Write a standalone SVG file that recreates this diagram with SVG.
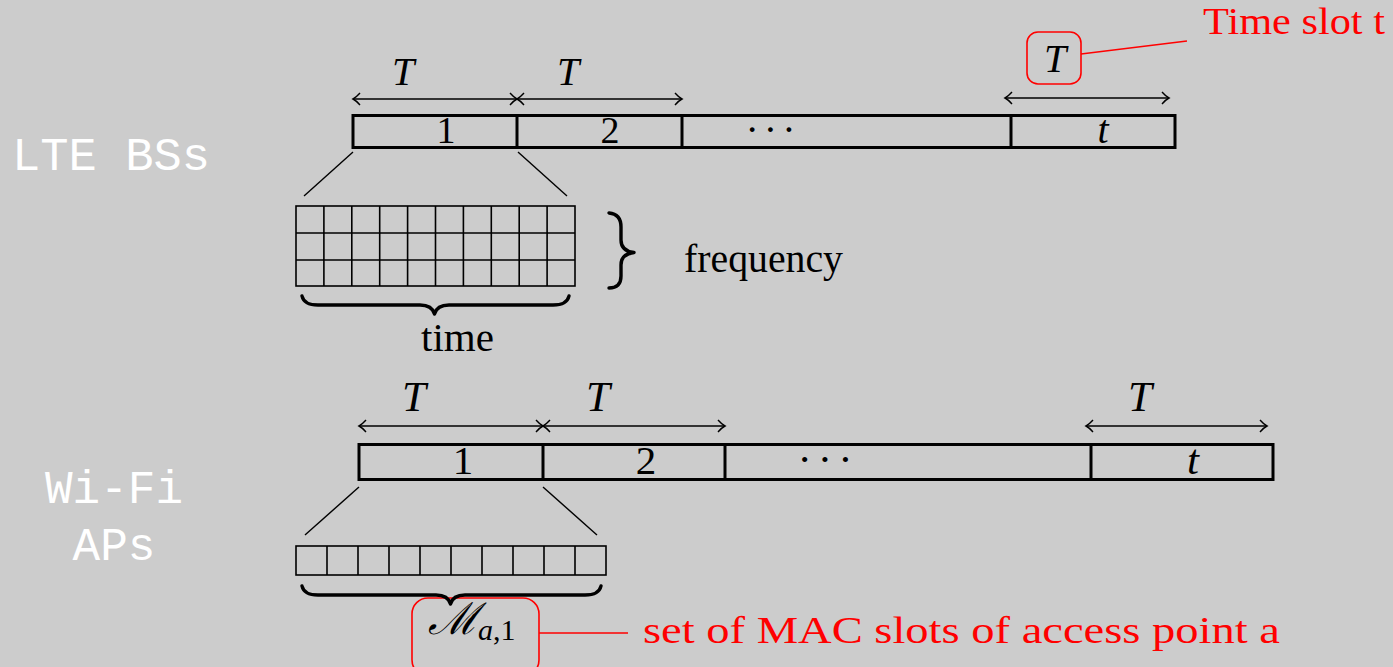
<svg xmlns="http://www.w3.org/2000/svg" width="1393" height="667" viewBox="0 0 1393 667">
<defs>
<style>
.bar{fill:none;stroke:#000;stroke-width:3}
.grid{fill:none;stroke:#000;stroke-width:1.6}
.thin{fill:none;stroke:#000;stroke-width:1.4}
.arr{fill:none;stroke:#000;stroke-width:1.4;marker-start:url(#ah);marker-end:url(#ah)}
.brace{fill:none;stroke:#000;stroke-width:3.4;stroke-linejoin:round;stroke-linecap:round}
.red{fill:none;stroke:#ff0000;stroke-width:1.6}
.m{font-family:"Liberation Serif","Times New Roman",serif;fill:#000}
.it{font-style:italic}
.rt{font-family:"Liberation Serif","Times New Roman",serif;fill:#ff0000}
.mono{font-family:"Liberation Mono","Courier New",monospace;fill:#fff;font-size:46px}
</style>
<marker id="ah" viewBox="-10 -8 12 16" markerWidth="12" markerHeight="16" refX="0" refY="0" markerUnits="userSpaceOnUse" orient="auto-start-reverse" overflow="visible">
<path d="M-7,-6 Q-3,-1.5 0,0 Q-3,1.5 -7,6" fill="none" stroke="#000" stroke-width="1.4"/>
</marker>
</defs>
<rect width="1393" height="667" fill="#cccccc"/>

<g id="labels">
<text class="mono" x="12" y="170" textLength="198" lengthAdjust="spacingAndGlyphs">LTE BSs</text>
<text class="mono" x="114" y="503" text-anchor="middle">Wi-Fi</text>
<text class="mono" x="114" y="560" text-anchor="middle">APs</text>
</g>

<g id="lte-bar">
<rect class="bar" x="353" y="115.5" width="822" height="32"/>
<line class="bar" x1="517" y1="115.5" x2="517" y2="147.5"/>
<line class="bar" x1="682" y1="115.5" x2="682" y2="147.5"/>
<line class="bar" x1="1011" y1="115.5" x2="1011" y2="147.5"/>
<text class="m" x="446" y="143" font-size="38" text-anchor="middle">1</text>
<text class="m" x="610" y="143" font-size="38" text-anchor="middle">2</text>
<text class="m" x="773" y="143" font-size="40" text-anchor="middle" letter-spacing="5">···</text>
<text class="m it" x="1103" y="143" font-size="40" text-anchor="middle">t</text>
</g>

<g id="lte-T">
<text class="m it" x="403" y="85" font-size="40" text-anchor="middle">T</text>
<text class="m it" x="568" y="85" font-size="40" text-anchor="middle">T</text>
</g>

<g id="lte-T-boxed">
<rect x="1027" y="32" width="54" height="52" rx="11" fill="none" stroke="#ff0000" stroke-width="1.6"/>
<text class="m it" x="1055" y="72" font-size="40" text-anchor="middle">T</text>
</g>

<g id="time-slot-label">
<text class="rt" x="1203" y="34" font-size="38" textLength="182" lengthAdjust="spacingAndGlyphs">Time slot t</text>
</g>

<g id="lte-grid">
<rect class="grid" x="296" y="206" width="279" height="80"/>
<path class="grid" d="M296,233H575M296,260H575M323.9,206V286M351.8,206V286M379.7,206V286M407.6,206V286M435.5,206V286M463.4,206V286M491.3,206V286M519.2,206V286M547.1,206V286"/>
<text class="m" x="457.5" y="351" font-size="40" text-anchor="middle" textLength="73" lengthAdjust="spacingAndGlyphs">time</text>
<text class="m" x="684" y="272" font-size="40" textLength="159" lengthAdjust="spacingAndGlyphs">frequency</text>
</g>

<g id="wifi-bar">
<rect class="bar" x="359" y="444.5" width="914" height="35"/>
<line class="bar" x1="543" y1="444.5" x2="543" y2="479.5"/>
<line class="bar" x1="725" y1="444.5" x2="725" y2="479.5"/>
<line class="bar" x1="1091" y1="444.5" x2="1091" y2="479.5"/>
<text class="m" x="463" y="474" font-size="41" text-anchor="middle">1</text>
<text class="m" x="646" y="474" font-size="41" text-anchor="middle">2</text>
<text class="m" x="828" y="474" font-size="43" text-anchor="middle" letter-spacing="6">···</text>
<text class="m it" x="1193" y="474" font-size="43" text-anchor="middle">t</text>
</g>

<g id="wifi-T">
<text class="m it" x="414" y="411" font-size="43" text-anchor="middle">T</text>
<text class="m it" x="598" y="411" font-size="43" text-anchor="middle">T</text>
<text class="m it" x="1140" y="411" font-size="43" text-anchor="middle">T</text>
</g>

<g id="wifi-grid">
<rect class="grid" x="296" y="546" width="310" height="29"/>
<path class="grid" d="M327,546V575M358,546V575M389,546V575M420,546V575M451,546V575M482,546V575M513,546V575M544,546V575M575,546V575"/>
</g>

<g id="mac-set">
<rect x="412" y="598" width="127" height="78" rx="16" fill="none" stroke="#ff0000" stroke-width="1.6"/>
<text class="m" x="428" y="634" font-size="44" font-family="DejaVu Serif,serif" font-style="italic">ℳ</text>
<text class="m" x="478" y="640" font-size="30"><tspan font-style="italic">a</tspan>,1</text>
<text class="rt" x="643" y="643" font-size="37" textLength="637" lengthAdjust="spacingAndGlyphs">set of MAC slots of access point a</text>
</g>

<g id="connectors">
<line class="arr" x1="353" y1="99" x2="517" y2="99"/>
<line class="arr" x1="517" y1="99" x2="682" y2="99"/>
<line class="arr" x1="1005" y1="98" x2="1169" y2="98"/>
<line class="arr" x1="359" y1="426" x2="543" y2="426"/>
<line class="arr" x1="543" y1="426" x2="725" y2="426"/>
<line class="arr" x1="1086" y1="426" x2="1267" y2="426"/>
<line class="thin" x1="353" y1="152" x2="304" y2="196"/>
<line class="thin" x1="518" y1="152" x2="567" y2="196"/>
<line class="thin" x1="359" y1="487" x2="305" y2="535"/>
<line class="thin" x1="543" y1="487" x2="597" y2="535"/>
<path class="brace" d="M302,296 Q304,305 318,305 L420,305 Q432,305 434.5,314 Q437,305 449,305 L553,305 Q567,305 569,296"/>
<path class="brace" d="M302,586 Q304,595 318,595 L436,595 Q448,595 450.5,604 Q453,595 465,595 L585,595 Q599,595 601,586"/>
<path class="brace" d="M609,213 Q621,214 621,227 L621,240 Q621,251 634,252.5 Q621,254 621,265 L621,276 Q621,288 609,288"/>
<line class="red" x1="1081" y1="54" x2="1187" y2="41"/>
<line class="red" x1="539" y1="633" x2="628" y2="633"/>
</g>
</svg>
